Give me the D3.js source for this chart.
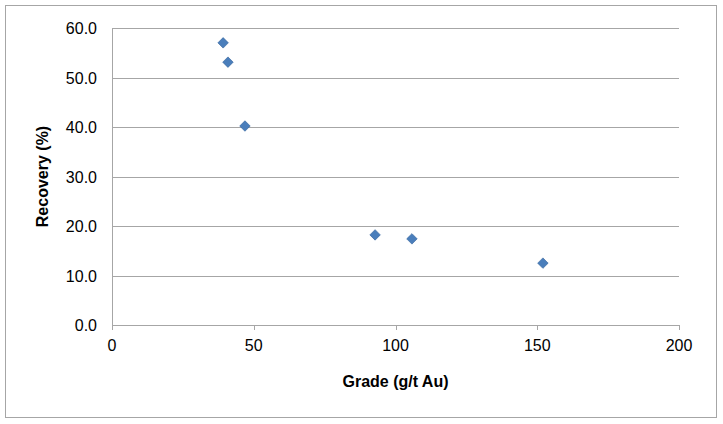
<!DOCTYPE html>
<html><head><meta charset="utf-8">
<script src="https://cdn.jsdelivr.net/npm/d3@7"></script>
<style>body{margin:0;background:#fff}text{font-family:"Liberation Sans",Arial,sans-serif}</style>
</head><body><div id="vis"></div>
<script>
// values
var grade = [39.2, 40.9, 46.9, 92.8, 105.8, 152.0];
var recovery = [57.0, 53.1, 40.2, 18.2, 17.4, 12.5];
var xTicks = [0, 50, 100, 150, 200];
var yTicks = [0, 10, 20, 30, 40, 50, 60];

var w = 723, h = 424;
var svg = d3.select("#vis").append("svg").attr("width", w).attr("height", h);

svg.append("rect").attr("x", 5.5).attr("y", 5.5).attr("width", 711).attr("height", 412)
  .attr("fill", "#fff").attr("stroke", "#a6a6a6");

var x = d3.scaleLinear().domain([0, 200]).range([112, 679]);
var y = d3.scaleLinear().domain([0, 60]).range([325, 28]);

// gridlines
svg.selectAll(".grid").data(yTicks).enter().append("line")
  .attr("x1", x(0)).attr("x2", x(200))
  .attr("y1", function(d){ return Math.round(y(d)) + 0.5; })
  .attr("y2", function(d){ return Math.round(y(d)) + 0.5; })
  .attr("stroke", "#a6a6a6");

// left axis line
svg.append("line").attr("x1", x(0) + 0.5).attr("x2", x(0) + 0.5)
  .attr("y1", y(60)).attr("y2", y(0)).attr("stroke", "#a6a6a6");

// x ticks
svg.selectAll(".xt").data(xTicks).enter().append("line")
  .attr("x1", function(d){ return Math.round(x(d)) + 0.5; })
  .attr("x2", function(d){ return Math.round(x(d)) + 0.5; })
  .attr("y1", y(0)).attr("y2", y(0) + 5).attr("stroke", "#a6a6a6");

svg.selectAll(".xl").data(xTicks).enter().append("text")
  .attr("x", function(d){ return x(d); }).attr("y", 351)
  .attr("text-anchor", "middle").attr("font-size", 16).attr("fill", "#000")
  .text(function(d){ return d; });

svg.selectAll(".yl").data(yTicks).enter().append("text")
  .attr("x", 97).attr("y", function(d){ return y(d) + 6; })
  .attr("text-anchor", "end").attr("font-size", 16).attr("fill", "#000")
  .text(function(d){ return d.toFixed(1); });

svg.append("text").attr("x", (x(0) + x(200)) / 2).attr("y", 387)
  .attr("text-anchor", "middle").attr("font-size", 16).attr("font-weight", "bold")
  .text("Grade (g/t Au)");

svg.append("text").attr("transform", "translate(48," + ((y(0) + y(60)) / 2) + ") rotate(-90)")
  .attr("text-anchor", "middle").attr("font-size", 16).attr("font-weight", "bold")
  .text("Recovery (%)");

// points
svg.selectAll(".pt").data(grade).enter().append("path")
  .attr("d", d3.symbol().type(d3.symbolDiamond2).size(70))
  .attr("transform", function(d, i){ return "translate(" + x(d) + "," + y(recovery[i]) + ")"; })
  .attr("fill", "#4a7ebb").attr("stroke", "#3a68a0").attr("stroke-width", 0.7);
</script>
</body></html>
